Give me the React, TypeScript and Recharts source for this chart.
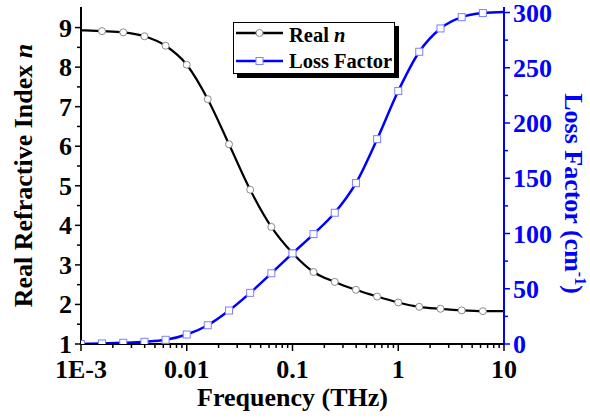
import { ComposedChart, Customized, Line, XAxis, YAxis } from "recharts";

const frequency = [
  0.001, 0.00158, 0.00251, 0.00398, 0.00631, 0.01, 0.0158, 0.0251, 0.0398, 0.0631, 0.1,
  0.158, 0.251, 0.398, 0.631, 1, 1.58, 2.51, 3.98, 6.31, 10
];
const realIndex = [
  8.93, 8.91, 8.88, 8.78, 8.54, 8.06, 7.19, 6.05, 4.9, 3.96, 3.3, 2.82, 2.57, 2.37, 2.2,
  2.05, 1.94, 1.89, 1.85, 1.83, 1.83
];
const lossFactor = [
  0, 0.5, 1.1, 2.0, 3.8, 8.6, 17, 30.3, 46.3, 64, 82, 99.5, 118.8, 145.6, 185.4, 229,
  264.5, 285.6, 295.8, 299.5, 300.5
];

const xMajorTicks = [0.001, 0.01, 0.1, 1, 10];
const xTickLabels = ["1E-3", "0.01", "0.1", "1", "10"];
const xMinorTicks = [
  0.002, 0.003, 0.004, 0.005, 0.006, 0.007, 0.008, 0.009,
  0.02, 0.03, 0.04, 0.05, 0.06, 0.07, 0.08, 0.09,
  0.2, 0.3, 0.4, 0.5, 0.6, 0.7, 0.8, 0.9,
  2, 3, 4, 5, 6, 7, 8, 9
];
const leftTicks = [1, 1.5, 2, 2.5, 3, 3.5, 4, 4.5, 5, 5.5, 6, 6.5, 7, 7.5, 8, 8.5, 9];
const rightTicks = [0, 25, 50, 75, 100, 125, 150, 175, 200, 225, 250, 275, 300];

const data = frequency.map((f, i) => ({ freq: f, n: realIndex[i], loss: lossFactor[i] }));

const FONT = '"Liberation Serif", "Times New Roman", serif';
const BLUE = "#0000ff";
const FS = 26;

function BottomTick({ x, y, payload }: any) {
  const i = xMajorTicks.indexOf(payload.value);
  const major = i >= 0;
  return (
    <g>
      <line x1={x} y1={y} x2={x} y2={y + (major ? 7 : 4)} stroke="#000" strokeWidth={1.5} />
      {major && (
        <text x={x} y={y + 34} textAnchor="middle" fontFamily={FONT} fontWeight="bold" fontSize={FS} fill="#000">
          {xTickLabels[i]}
        </text>
      )}
    </g>
  );
}

function TopTick({ x, y, payload }: any) {
  const major = xMajorTicks.includes(payload.value);
  return <line x1={x} y1={y} x2={x} y2={y + (major ? 7 : 4)} stroke="#000" strokeWidth={1.5} />;
}

function LeftTick({ x, y, payload }: any) {
  const major = Number.isInteger(payload.value);
  return (
    <g>
      <line x1={x - (major ? 6 : 4)} y1={y} x2={x} y2={y} stroke="#000" strokeWidth={1.5} />
      {major && (
        <text x={x - 9} y={y + 9} textAnchor="end" fontFamily={FONT} fontWeight="bold" fontSize={FS} fill="#000">
          {payload.value}
        </text>
      )}
    </g>
  );
}

function RightTick({ x, y, payload }: any) {
  const major = payload.value % 50 === 0;
  return (
    <g>
      <line x1={x} y1={y} x2={x + (major ? 6 : 4)} y2={y} stroke={BLUE} strokeWidth={1.5} />
      {major && (
        <text x={x + 9} y={y + 9} textAnchor="start" fontFamily={FONT} fontWeight="bold" fontSize={FS} fill={BLUE}>
          {payload.value}
        </text>
      )}
    </g>
  );
}

function CircleDot({ cx, cy, index }: any) {
  if (index === 0 || index === frequency.length - 1) return <g key={index} />;
  return <circle key={index} cx={cx} cy={cy} r={3.5} fill="#fff" stroke="#8a8a8a" strokeWidth={1} />;
}

function SquareDot({ cx, cy, index }: any) {
  if (index === frequency.length - 1) return <g key={index} />;
  return <rect key={index} x={cx - 3.5} y={cy - 3.5} width={7} height={7} fill="#fff" stroke="#7f7fff" strokeWidth={1} />;
}

function LegendBox() {
  return (
    <g fontFamily={FONT} fontWeight="bold" fontSize={20.5}>
      <rect x={237} y={26} width={162} height={52} fill="#000" />
      <rect x={233.5} y={22.5} width={161} height={51} fill="#fff" stroke="#000" strokeWidth={1} />
      <line x1={236} y1={33} x2={283} y2={33} stroke="#000" strokeWidth={2.5} />
      <circle cx={259.5} cy={33} r={3.5} fill="#fff" stroke="#8a8a8a" />
      <text x={289} y={42}>
        Real <tspan fontStyle="italic">n</tspan>
      </text>
      <line x1={236} y1={61} x2={283} y2={61} stroke={BLUE} strokeWidth={2.5} />
      <rect x={256} y={57.5} width={7} height={7} fill="#fff" stroke="#7f7fff" />
      <text x={289} y={68}>Loss Factor</text>
    </g>
  );
}

export default function App() {
  return (
    <div style={{ position: "absolute", left: 0, top: 0, background: "#fff" }}>
      <ComposedChart width={590} height={419} data={data} margin={{ top: 7, right: 0, bottom: 0, left: 0 }}>
        <XAxis
          xAxisId="bottom"
          dataKey="freq"
          type="number"
          scale="log"
          domain={[0.001, 10]}
          allowDataOverflow
          ticks={[...xMajorTicks, ...xMinorTicks]}
          interval={0}
          tickSize={0}
          tickMargin={0}
          tickLine={false}
          tick={(p: any) => <BottomTick {...p} />}
          axisLine={{ stroke: "#000", strokeWidth: 2 }}
          height={75}
          label={{
            content: ({ viewBox }: any) => (
              <text
                x={viewBox.x + viewBox.width / 2}
                y={viewBox.y + 62}
                textAnchor="middle"
                fontFamily={FONT}
                fontWeight="bold"
                fontSize={FS}
                fill="#000"
              >
                Frequency (THz)
              </text>
            )
          }}
        />
        <XAxis
          xAxisId="top"
          orientation="top"
          dataKey="freq"
          type="number"
          scale="log"
          domain={[0.001, 10]}
          allowDataOverflow
          ticks={[...xMajorTicks, ...xMinorTicks]}
          interval={0}
          tickSize={0}
          tickMargin={0}
          tickLine={false}
          tick={(p: any) => <TopTick {...p} />}
          axisLine={{ stroke: "#000", strokeWidth: 2 }}
          height={0}
        />
        <YAxis
          yAxisId="left"
          type="number"
          domain={[1, 9.52]}
          allowDataOverflow
          ticks={leftTicks}
          interval={0}
          tickSize={0}
          tickMargin={0}
          tickLine={false}
          tick={(p: any) => <LeftTick {...p} />}
          axisLine={{ stroke: "#000", strokeWidth: 2 }}
          width={81}
          label={{
            content: ({ viewBox }: any) => (
              <text
                transform={`translate(${viewBox.x + 32}, ${viewBox.y + viewBox.height / 2}) rotate(-90)`}
                textAnchor="middle"
                fontFamily={FONT}
                fontWeight="bold"
                fontSize={FS}
                fill="#000"
              >
                Real Refractive Index <tspan fontStyle="italic">n</tspan>
              </text>
            )
          }}
        />
        <YAxis
          yAxisId="right"
          orientation="right"
          type="number"
          domain={[0, 305]}
          allowDataOverflow
          ticks={rightTicks}
          interval={0}
          tickSize={0}
          tickMargin={0}
          tickLine={false}
          tick={(p: any) => <RightTick {...p} />}
          axisLine={{ stroke: BLUE, strokeWidth: 2 }}
          width={86}
          label={{
            content: ({ viewBox }: any) => (
              <text
                transform={`translate(${viewBox.x + 61}, ${viewBox.y + viewBox.height / 2 + 18}) rotate(90)`}
                textAnchor="middle"
                fontFamily={FONT}
                fontWeight="bold"
                fontSize={FS}
                fill={BLUE}
              >
                Loss Factor (cm
                <tspan fontSize={16} dy={-10}>-1</tspan>
                <tspan dy={10}>)</tspan>
              </text>
            )
          }}
        />
        <Line
          xAxisId="bottom"
          yAxisId="left"
          dataKey="n"
          type="monotone"
          stroke="#000"
          strokeWidth={2.2}
          dot={(p: any) => <CircleDot {...p} />}
          activeDot={false}
          isAnimationActive={false}
        />
        <Line
          xAxisId="bottom"
          yAxisId="right"
          dataKey="loss"
          type="monotone"
          stroke={BLUE}
          strokeWidth={2.5}
          dot={(p: any) => <SquareDot {...p} />}
          activeDot={false}
          isAnimationActive={false}
        />
        <Customized component={LegendBox} />
      </ComposedChart>
    </div>
  );
}
